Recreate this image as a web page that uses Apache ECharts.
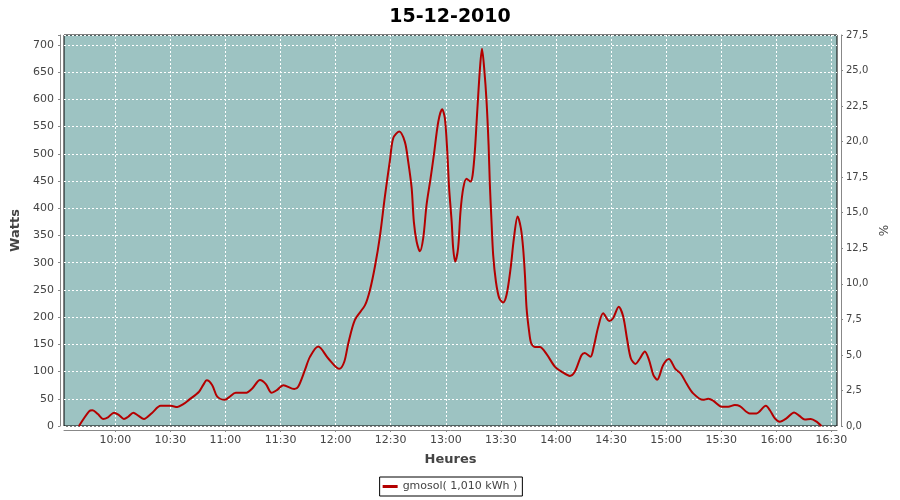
<!DOCTYPE html>
<html><head><meta charset="utf-8">
<script src="https://cdn.jsdelivr.net/npm/echarts@6/dist/echarts.min.js"></script>
<style>html,body{margin:0;padding:0;background:#fff}#c{width:900px;height:500px}</style>
</head><body><div id="c"></div>
<script>
const chartTitle = '15-12-2010';
const seriesName = 'gmosol( 1,010 kWh )';
const xAxisName = 'Heures';
const leftAxisName = 'Watts';
const rightAxisName = '%';

// time of each sample, in minutes since midnight
const timeMin = [
  580.2, 585.7, 587.5, 590.5, 593.3, 596.0, 599.3, 602.0, 604.7, 607.0,
  609.8, 612.5, 615.6, 620.0, 624.7, 630.2, 633.8, 637.0, 640.1, 645.6,
  648.0, 649.8, 652.8, 655.5, 659.6, 662.0, 665.6, 671.0, 674.6, 678.8,
  682.0, 685.1, 688.0, 691.5, 697.5, 699.6, 703.3, 706.0, 710.5, 716.0,
  722.0, 724.7, 726.9, 730.5, 736.0, 738.7, 741.4, 744.1, 746.8, 749.6,
  751.4, 754.6, 757.7, 759.5, 761.4, 762.6, 764.1, 765.9, 767.7, 769.5,
  771.7, 773.5, 775.9, 778.0, 779.5, 780.8, 781.8, 783.2, 784.0, 785.1,
  786.7, 788.0, 789.5, 791.3, 793.5, 794.6, 795.8, 797.1, 798.6, 799.7,
  800.9, 802.2, 803.3, 804.0, 804.9, 805.8, 807.3, 809.1, 811.2, 813.1,
  815.3, 817.1, 819.1, 820.9, 822.1, 823.1, 824.0, 825.4, 826.5, 828.5,
  831.2, 834.9, 839.4, 843.0, 847.6, 850.3, 853.9, 855.7, 858.8, 860.6,
  863.0, 865.7, 869.0, 871.1, 874.2, 876.6, 878.8, 880.8, 883.3, 885.7,
  888.4, 890.7, 893.0, 895.1, 898.4, 901.5, 905.0, 908.0, 911.1, 914.7,
  920.1, 922.9, 925.6, 930.2, 933.8, 937.4, 940.1, 945.6, 949.2, 954.3,
  956.5, 959.2, 961.9, 965.5, 969.7, 972.8, 975.5, 978.8, 981.9, 984.6
];
// power in watts
const watts = [
  0, 27, 29, 22, 13, 16, 24.5, 20, 13, 17,
  24.5, 19, 13, 24, 37, 37, 35, 40, 48, 63,
  76, 84, 75, 54, 48, 53, 61, 61, 69, 84.5,
  77, 61, 66, 75, 68, 72, 103, 127, 146, 124,
  105, 118, 152, 195, 222, 250, 293, 348, 421, 489,
  529, 541, 522, 486, 437, 375, 339, 321, 345, 406,
  455, 498, 559, 582, 565, 504, 437, 375, 327, 302,
  327, 394, 437, 454, 449, 461, 504, 577, 657, 693,
  657, 596, 516, 443, 375, 314, 265, 235, 227, 241,
  290, 345, 385, 363, 327, 277, 216, 173, 152, 145,
  145, 132, 109, 100, 92, 100, 130, 134, 127, 146,
  182, 207, 193, 198, 219, 201, 158, 124, 114, 124,
  137, 121, 94, 85, 112, 123, 105, 96, 78, 60,
  48, 50, 46.5, 35.5, 35.5, 38.6, 36.7, 23, 23, 37,
  29, 14, 8, 14, 25, 18, 12, 13, 8, 0
];
// x tick labels (minutes since midnight)
const xTickMinutes = [600, 630, 660, 690, 720, 750, 780, 810, 840, 870, 900, 930, 960, 990];

const FONT = 'DejaVu Sans';
const TXT = '#444444';
const AX = '#888888';

function hhmm(v) {
  const h = Math.floor(v / 60), m = Math.round(v - h * 60);
  return (h < 10 ? '0' : '') + h + ':' + (m < 10 ? '0' : '') + m;
}

const seriesData = timeMin.map((t, i) => [t, watts[i]]);

const chart = echarts.init(document.getElementById('c'), null, {renderer: 'canvas'});
chart.setOption({
  animation: false,
  backgroundColor: '#ffffff',
  title: {
    text: chartTitle, left: 'center', top: 3,
    textStyle: {fontFamily: FONT, fontSize: 19, fontWeight: 'bold', color: '#000'}
  },
  legend: {
    data: [seriesName], left: 'center', top: 477,
    borderColor: '#000', borderWidth: 1, borderRadius: 0,
    padding: [4, 5, 4, 3], icon: 'rect', itemWidth: 15, itemHeight: 3,
    textStyle: {fontFamily: FONT, fontSize: 11, color: TXT}
  },
  grid: {
    left: 64, top: 35, width: 773, height: 391, show: true,
    backgroundColor: '#9dc3c2', borderColor: '#000', borderWidth: 1
  },
  xAxis: {
    type: 'value', min: 572.06, max: 993.05, offset: 4,
    axisLine: {show: true, onZero: false, lineStyle: {color: AX}},
    axisTick: {show: true, length: 2, customValues: xTickMinutes, lineStyle: {color: AX}},
    axisLabel: {customValues: xTickMinutes, formatter: hhmm, color: TXT, fontSize: 11, fontFamily: FONT, margin: 5},
    splitLine: {show: true, lineStyle: {color: '#ffffff', type: [2, 2], width: 1}},
    name: xAxisName, nameLocation: 'middle', nameGap: 23,
    nameTextStyle: {fontFamily: FONT, fontWeight: 'bold', fontSize: 13, color: TXT}
  },
  yAxis: [{
    type: 'value', position: 'left', min: 0, max: 718.3, interval: 50, offset: 4,
    axisLine: {show: true, lineStyle: {color: AX}},
    axisTick: {show: true, length: 2, lineStyle: {color: AX}},
    axisLabel: {color: TXT, fontSize: 11, fontFamily: FONT, margin: 6,
      formatter: v => (Math.abs(v % 50) < 1e-6 ? String(v) : '')},
    splitLine: {show: true, lineStyle: {color: '#ffffff', type: [2, 2], width: 1}},
    name: leftAxisName, nameLocation: 'middle', nameGap: 31,
    nameTextStyle: {fontFamily: FONT, fontWeight: 'bold', fontSize: 13, color: TXT}
  }, {
    type: 'value', position: 'right', min: 0, max: 27.5, interval: 2.5, offset: 4,
    axisLine: {show: true, lineStyle: {color: AX}},
    axisTick: {show: true, length: 2, lineStyle: {color: AX}},
    axisLabel: {color: TXT, fontSize: 10, fontFamily: FONT, margin: 5,
      formatter: v => v.toFixed(1).replace('.', ',')},
    splitLine: {show: false},
    name: rightAxisName, nameLocation: 'middle', nameGap: 34,
    nameTextStyle: {fontFamily: FONT, fontSize: 12, color: TXT}
  }],
  series: [{
    name: seriesName, type: 'line', yAxisIndex: 0, xAxisIndex: 0,
    data: seriesData, showSymbol: false, symbol: 'none', smooth: 0.3,
    lineStyle: {color: '#b40000', width: 2}, itemStyle: {color: '#b40000'}
  }]
});
</script>
</body></html>
